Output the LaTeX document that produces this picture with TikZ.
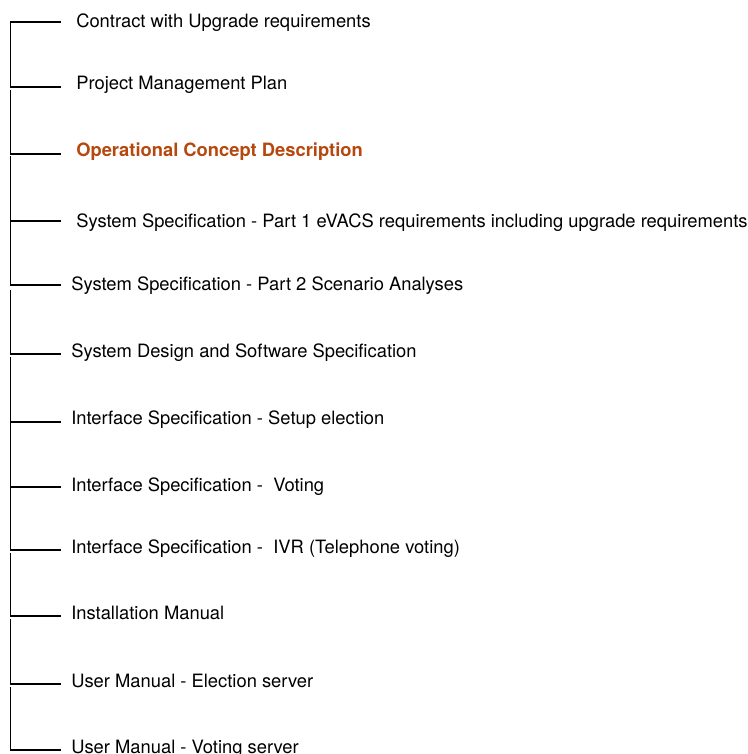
\documentclass[tikz,border=0pt]{standalone}
\usepackage{fontspec}
\setmainfont{TeX Gyre Heros}
\definecolor{ocdorange}{RGB}{182,72,14}
\begin{document}
\begin{tikzpicture}[x=0.75pt,y=-0.75pt,
  item/.style={anchor=base west,inner sep=0pt,font=\fontsize{13.77}{16}\selectfont},
  hot/.style={item,font=\fontsize{13.77}{16}\selectfont\bfseries,text=ocdorange},
  link/.style={line width=1.15pt,line cap=rect}]
\useasboundingbox (0,0) rectangle (748,754);
% items
\node[item] (t1)  at (76,27)  {Contract with Upgrade requirements};
\node[item] (t2)  at (76,89)  {Project Management Plan};
\node[hot]  (t3)  at (76,156) {Operational Concept Description};
\node[item] (t4)  at (76,227) {System Specification - Part 1 eVACS requirements including upgrade requirements};
\node[item] (t5)  at (71,290) {System Specification - Part 2 Scenario Analyses};
\node[item] (t6)  at (71,357) {System Design and Software Specification};
\node[item] (t7)  at (71,424) {Interface Specification - Setup election};
\node[item] (t8)  at (71,491) {Interface Specification -\ \ Voting};
\node[item] (t9)  at (71,553) {Interface Specification -\ \ IVR (Telephone voting)};
\node[item] (t10) at (71,619) {Installation Manual};
\node[item] (t11) at (71,687) {User Manual - Election server};
\node[item] (t12) at (71,753) {User Manual - Voting server};
% junction coordinates
\foreach \i/\y in {1/22,2/87,3/154,4/221,5/285,6/354,7/422,8/487,9/550,10/616,11/684,12/750}{
  \coordinate (s\i) at (10.5,\y);
  \coordinate (e\i) at (60,\y);
}
% segment starts just below a junction
\coordinate (b2) at (10.5,90.5);
\coordinate (b3) at (10.5,157);
\coordinate (b5) at (10.5,290.5);
\coordinate (b6) at (10.5,357.5);
\coordinate (b9) at (10.5,553.5);
\coordinate (b10) at (10.5,620);
\coordinate (b11) at (10.5,687.5);
% branches
\foreach \i in {1,...,12}{ \draw[link] (s\i) -- (e\i); }
% spine segments
\draw[link] (s1) -- (s2);
\draw[link] (b2) -- (s3);
\draw[link] (b3) -- (s5);
\draw[link] (b5) -- (s6);
\draw[link] (b6) -- (s9);
\draw[link] (b9) -- (s10);
\draw[link] (b10) -- (s11);
\draw[link] (b11) -- (s12);
\end{tikzpicture}
\end{document}
